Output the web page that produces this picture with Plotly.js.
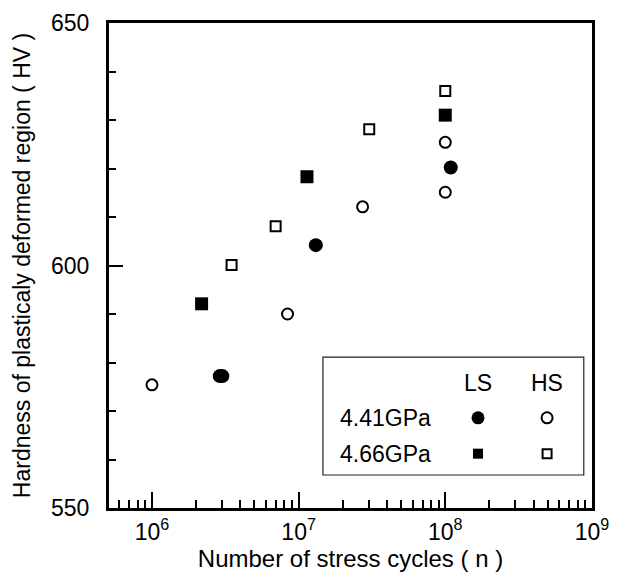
<!DOCTYPE html>
<html>
<head>
<meta charset="utf-8">
<script src="https://cdn.plot.ly/plotly-3.0.1.min.js"></script>
<style>
  html, body { margin: 0; padding: 0; background: #ffffff; }
  #chart { width: 622px; height: 574px; }
</style>
</head>
<body>
<div id="chart"></div>
<script>
// ---- data ----
const cyclesLS441 = [2.9e6, 3.02e6, 1.31e7, 1.09e8];
const hardnessLS441 = [577.2, 577.2, 604.2, 620.2];

const cyclesHS441 = [1.0e6, 8.4e6, 2.73e7, 1.0e8, 1.0e8];
const hardnessHS441 = [575.4, 590.0, 612.1, 615.1, 625.4];

const cyclesLS466 = [2.18e6, 1.14e7, 1.0e8];
const hardnessLS466 = [592.1, 618.3, 631.0];

const cyclesHS466 = [3.49e6, 6.97e6, 3.03e7, 1.0e8];
const hardnessHS466 = [600.1, 608.1, 628.1, 636.0];

const legendRows = ['4.41GPa', '4.66GPa'];
const legendCols = ['LS', 'HS'];

const xTickVals = [1e6, 1e7, 1e8, 1e9];
const xTickText = ['10<sup>6</sup>', '10<sup>7</sup>', '10<sup>8</sup>', '10<sup>9</sup>'];
const yTickVals = [550, 600, 650];
const yTickText = ['550', '600', '650'];

const xTitle = 'Number of stress cycles ( n )';
const yTitle = 'Hardness of plasticaly deformed region ( HV )';

// ---- styling ----
const FONT = 'Arial, "Liberation Sans", Helvetica, sans-serif';
const black = '#000000';

const filledCircle = { symbol: 'circle', size: 14, color: black, line: { width: 0 } };
const openCircle   = { symbol: 'circle', size: 11, color: '#ffffff', line: { color: black, width: 2 } };
const filledSquare = { symbol: 'square', size: 13, color: black, line: { width: 0 } };
const openSquare   = { symbol: 'square', size: 10, color: '#ffffff', line: { color: black, width: 2 } };

const traces = [
  { x: cyclesHS441, y: hardnessHS441, mode: 'markers', type: 'scatter', marker: openCircle, showlegend: false, hoverinfo: 'x+y' },
  { x: cyclesHS466, y: hardnessHS466, mode: 'markers', type: 'scatter', marker: openSquare, showlegend: false, hoverinfo: 'x+y' },
  { x: cyclesLS441, y: hardnessLS441, mode: 'markers', type: 'scatter', marker: filledCircle, showlegend: false, hoverinfo: 'x+y' },
  { x: cyclesLS466, y: hardnessLS466, mode: 'markers', type: 'scatter', marker: filledSquare, showlegend: false, hoverinfo: 'x+y' }
];

// ---- custom legend box (paper fractions of plot area) ----
const box = { x0: 0.443, x1: 0.983, y0: 0.068, y1: 0.311 };
const colX = [0.764, 0.907];
const headerY = 0.258;
const rowY = [0.186, 0.112];
const labelX = 0.474;

// legend markers drawn on an overlay axis with range [0,1]
const legendMarkers = [
  [ { symbol: 'circle', size: 13, color: black, line: { width: 0 } },
    { symbol: 'circle', size: 11, color: '#ffffff', line: { color: black, width: 2 } } ],
  [ { symbol: 'square', size: 10, color: black, line: { width: 0 } },
    { symbol: 'square', size: 9, color: '#ffffff', line: { color: black, width: 2 } } ]
];
legendRows.forEach((row, r) => {
  legendCols.forEach((col, c) => {
    traces.push({
      x: [colX[c]], y: [rowY[r]], xaxis: 'x2', yaxis: 'y2',
      mode: 'markers', type: 'scatter', marker: legendMarkers[r][c],
      showlegend: false, hoverinfo: 'skip'
    });
  });
});

const annotations = [];
legendCols.forEach((col, c) => {
  annotations.push({ xref: 'paper', yref: 'paper', x: colX[c], y: headerY, text: col,
    showarrow: false, xanchor: 'center', yanchor: 'middle', font: { family: FONT, size: 23, color: black } });
});
legendRows.forEach((row, r) => {
  annotations.push({ xref: 'paper', yref: 'paper', x: labelX, y: rowY[r], text: row,
    showarrow: false, xanchor: 'left', yanchor: 'middle', font: { family: FONT, size: 23, color: black } });
});

// minor tick positions for the log axis (2..9 per decade)
const minorX = [];
for (let e = 5; e <= 8; e++) for (let k = 2; k <= 9; k++) minorX.push(k * Math.pow(10, e));

const layout = {
  width: 622, height: 574,
  margin: { l: 109, r: 30, t: 23, b: 66, pad: 0 },
  paper_bgcolor: '#ffffff', plot_bgcolor: '#ffffff',
  font: { family: FONT, size: 23, color: black },
  showlegend: false,
  xaxis: {
    type: 'log', range: [5.707, 9.0005],
    tickmode: 'array', tickvals: xTickVals, ticktext: xTickText,
    ticks: 'inside', ticklen: 16, tickwidth: 2, tickcolor: black,
    showline: true, linewidth: 3, linecolor: black, mirror: true,
    showgrid: false, zeroline: false,
    tickfont: { family: FONT, size: 23, color: black },
    ticklabelstandoff: 1,
    minor: { tickvals: minorX, ticks: 'inside', ticklen: 8, tickwidth: 2, tickcolor: black, showgrid: false },
    title: { text: xTitle, font: { family: FONT, size: 24, color: black }, standoff: 6 }
  },
  yaxis: {
    range: [550, 650], tickmode: 'array', tickvals: yTickVals, ticktext: yTickText,
    ticks: 'inside', ticklen: 14, tickwidth: 2, tickcolor: black,
    showline: true, linewidth: 3, linecolor: black, mirror: true,
    showgrid: false, zeroline: false,
    tickfont: { family: FONT, size: 23, color: black },
    ticklabelstandoff: 12,
    minor: { dtick: 10, ticks: 'inside', ticklen: 7, tickwidth: 2, tickcolor: black, showgrid: false },
    title: { text: yTitle, font: { family: FONT, size: 23, color: black }, standoff: 14 }
  },
  xaxis2: { overlaying: 'x', range: [0, 1], visible: false, fixedrange: true },
  yaxis2: { overlaying: 'y', range: [0, 1], visible: false, fixedrange: true },
  shapes: [
    { type: 'rect', xref: 'paper', yref: 'paper', x0: box.x0, x1: box.x1, y0: box.y0, y1: box.y1,
      line: { color: '#222222', width: 1.2 }, fillcolor: '#ffffff', layer: 'below' }
  ],
  annotations: annotations
};

Plotly.newPlot('chart', traces, layout, { displayModeBar: false, staticPlot: true });
</script>
</body>
</html>
